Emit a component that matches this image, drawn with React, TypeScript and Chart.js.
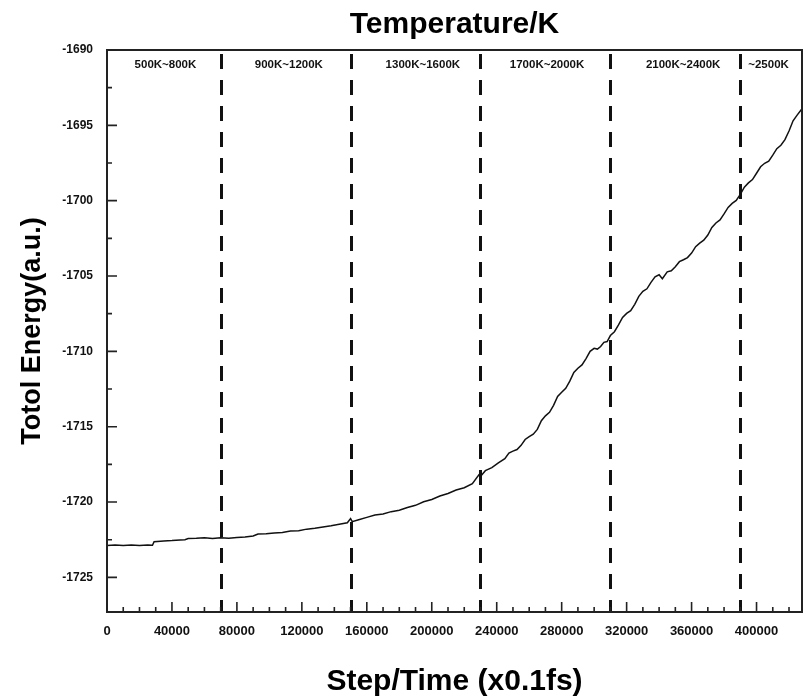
import React, { useEffect, useRef } from "react";
import { Chart, registerables } from "chart.js";

Chart.register(...registerables);

const FONT = "'Liberation Sans', Arial, Helvetica, sans-serif";

const steps = [
  0, 5000, 10000, 15000, 20000, 25000, 28000, 29000, 35000, 40000,
  45000, 48000, 50000, 55000, 60000, 65000, 70000, 75000, 80000, 85000,
  90000, 93000, 98000, 103000, 108000, 113000, 118000, 123000, 128000, 133000,
  138000, 143000, 148000, 150000, 151000, 155000, 160000, 165000, 170000, 175000,
  180000, 185000, 190000, 195000, 200000, 205000, 210000, 215000, 220000, 225000,
  229000, 230000, 233000, 237000, 241000, 245000, 247500, 250000, 252500, 255000,
  257500, 260000, 262500, 265000, 267500, 270000, 272500, 275000, 277500, 280000,
  282500, 285000, 287500, 290000, 292500, 295000, 297500, 300000, 302000, 304000,
  306000, 308000, 310000, 312500, 315000, 317500, 320000, 322500, 325000, 327500,
  330000, 332500, 335000, 337500, 340000, 342000, 345000, 347500, 350000, 352500,
  355000, 357500, 360000, 362500, 365000, 367500, 370000, 372500, 375000, 377500,
  380000, 382500, 385000, 387500, 390000, 392500, 395000, 397500, 400000, 402500,
  405000, 407500, 410000, 412500, 415000, 417500, 420000, 422500, 425000, 428000,
];

const energy = [
  -1722.88, -1722.86, -1722.89, -1722.86, -1722.88, -1722.85, -1722.87, -1722.63, -1722.58, -1722.56,
  -1722.52, -1722.5, -1722.42, -1722.41, -1722.38, -1722.42, -1722.37, -1722.4, -1722.35, -1722.33,
  -1722.26, -1722.12, -1722.1, -1722.05, -1722.02, -1721.92, -1721.9, -1721.8, -1721.74, -1721.66,
  -1721.58, -1721.47, -1721.38, -1721.1, -1721.3, -1721.18, -1721.02, -1720.86, -1720.8, -1720.64,
  -1720.55, -1720.36, -1720.22, -1719.98, -1719.83, -1719.6, -1719.43, -1719.2, -1719.05, -1718.78,
  -1718.2, -1718.3, -1717.92, -1717.72, -1717.4, -1717.12, -1716.75, -1716.62, -1716.52, -1716.24,
  -1715.85, -1715.66, -1715.5, -1715.18, -1714.6, -1714.28, -1714.05, -1713.58, -1713.0, -1712.72,
  -1712.45, -1711.98, -1711.4, -1711.12, -1710.9, -1710.48, -1710.0, -1709.8, -1709.85, -1709.68,
  -1709.4, -1709.35, -1708.95, -1708.7, -1708.25, -1707.75, -1707.48, -1707.3, -1706.88, -1706.35,
  -1706.02, -1705.85, -1705.42, -1705.05, -1704.92, -1705.18, -1704.72, -1704.65, -1704.38, -1704.05,
  -1703.92, -1703.78, -1703.48, -1703.05, -1702.82, -1702.62, -1702.28, -1701.78, -1701.48, -1701.28,
  -1700.88, -1700.45, -1700.18, -1699.98, -1699.58, -1699.1, -1698.82, -1698.6, -1698.18, -1697.75,
  -1697.52, -1697.38, -1696.98, -1696.55, -1696.32, -1695.95, -1695.38, -1694.7, -1694.32, -1693.9,
];

const boundaries = [70000, 150000, 230000, 310000, 390000];
const tempLabels = ["500K~800K", "900K~1200K", "1300K~1600K", "1700K~2000K", "2100K~2400K", "~2500K"];
const tempLabelAt = [36000, 112000, 194500, 271000, 354800, 407400];

const xTicks = [0, 40000, 80000, 120000, 160000, 200000, 240000, 280000, 320000, 360000, 400000];
const yTicks = [-1725, -1720, -1715, -1710, -1705, -1700, -1695, -1690];

const xMin = 0;
const xMax = 428000;
const xMinor = 10000;
const yMin = -1727.3;
const yMax = -1690;
const yMinor = 2.5;

export default function App() {
  const ref = useRef<HTMLCanvasElement>(null);

  useEffect(() => {
    if (!ref.current) return;
    const pts = steps.map((s, i) => ({ x: s, y: energy[i] }));

    const decor = {
      id: "decor",
      beforeDatasetsDraw(chart: any) {
        const { ctx, chartArea, scales } = chart;
        ctx.save();
        ctx.strokeStyle = "#111";
        ctx.lineWidth = 3;
        ctx.setLineDash([15, 11]);
        boundaries.forEach((b) => {
          const px = Math.round(scales.x.getPixelForValue(b)) + 0.5;
          ctx.beginPath();
          ctx.moveTo(px, chartArea.top + 4);
          ctx.lineTo(px, chartArea.bottom);
          ctx.stroke();
        });
        ctx.restore();
      },
      afterDraw(chart: any) {
        const { ctx, chartArea, scales } = chart;
        const { left, right, top, bottom } = chartArea;
        ctx.save();
        ctx.strokeStyle = "#222";
        ctx.lineWidth = 2;
        ctx.strokeRect(left, top, right - left, bottom - top);
        ctx.lineWidth = 1.6;
        ctx.beginPath();
        for (let v = xMin; v <= xMax; v += xMinor) {
          const px = scales.x.getPixelForValue(v);
          const len = xTicks.includes(v) ? 10 : 5;
          ctx.moveTo(px, bottom);
          ctx.lineTo(px, bottom - len);
        }
        for (let v = yTicks[0]; v <= yMax; v += yMinor) {
          const py = scales.y.getPixelForValue(v);
          const len = yTicks.includes(v) ? 10 : 5;
          ctx.moveTo(left, py);
          ctx.lineTo(left + len, py);
        }
        ctx.stroke();
        ctx.fillStyle = "#111";
        ctx.font = `bold 11.5px ${FONT}`;
        ctx.textAlign = "center";
        ctx.textBaseline = "middle";
        tempLabels.forEach((t, i) => {
          ctx.fillText(t, scales.x.getPixelForValue(tempLabelAt[i]), top + 15);
        });
        ctx.restore();
      },
    };

    const chart = new Chart(ref.current, {
      type: "scatter",
      data: {
        datasets: [
          {
            data: pts,
            showLine: true,
            borderColor: "#111",
            borderWidth: 1.5,
            pointRadius: 0,
            tension: 0,
          },
        ],
      },
      options: {
        animation: false,
        responsive: false,
        maintainAspectRatio: false,
        layout: { padding: { left: 0, right: 1, top: 0, bottom: 0 } },
        plugins: {
          legend: { display: false },
          tooltip: { enabled: false },
          title: {
            display: true,
            text: "Temperature/K",
            fullSize: false,
            color: "#000",
            font: { family: FONT, size: 30, weight: "bold", lineHeight: 1 },
            padding: { top: 10, bottom: 10 },
          },
        },
        scales: {
          x: {
            type: "linear",
            min: xMin,
            max: xMax,
            grid: { display: false, drawTicks: false },
            border: { display: true, color: "#222", width: 2 },
            ticks: {
              autoSkip: false,
              maxRotation: 0,
              padding: 12,
              color: "#111",
              font: { family: FONT, size: 13, weight: "bold" },
              callback: (v: any) => String(v),
            },
            afterBuildTicks: (s: any) => {
              s.ticks = xTicks.map((v) => ({ value: v }));
            },
            afterFit: (s: any) => {
              s.height = 85;
            },
            title: {
              display: true,
              text: "Step/Time (x0.1fs)",
              color: "#000",
              font: { family: FONT, size: 30, weight: "bold", lineHeight: 1 },
              padding: { top: 0, bottom: 0 },
            },
          },
          y: {
            type: "linear",
            min: yMin,
            max: yMax,
            grid: { display: false, drawTicks: false },
            border: { display: true, color: "#222", width: 2 },
            ticks: {
              autoSkip: false,
              padding: 14,
              color: "#111",
              font: { family: FONT, size: 12, weight: "bold" },
              callback: (v: any) => String(v),
            },
            afterBuildTicks: (s: any) => {
              s.ticks = yTicks.map((v) => ({ value: v }));
            },
            afterFit: (s: any) => {
              s.width = 107;
            },
            title: {
              display: true,
              text: "Totol Energy(a.u.)",
              color: "#000",
              font: { family: FONT, size: 27, weight: "bold", lineHeight: 1 },
              padding: { top: 19.5, bottom: 0 },
            },
          },
        },
      },
      plugins: [decor],
    } as any);

    return () => chart.destroy();
  }, []);

  return (
    <div style={{ position: "absolute", left: 0, top: 0, width: 803, height: 697, background: "#fff" }}>
      <canvas ref={ref} width={803} height={697} style={{ display: "block" }} />
    </div>
  );
}
